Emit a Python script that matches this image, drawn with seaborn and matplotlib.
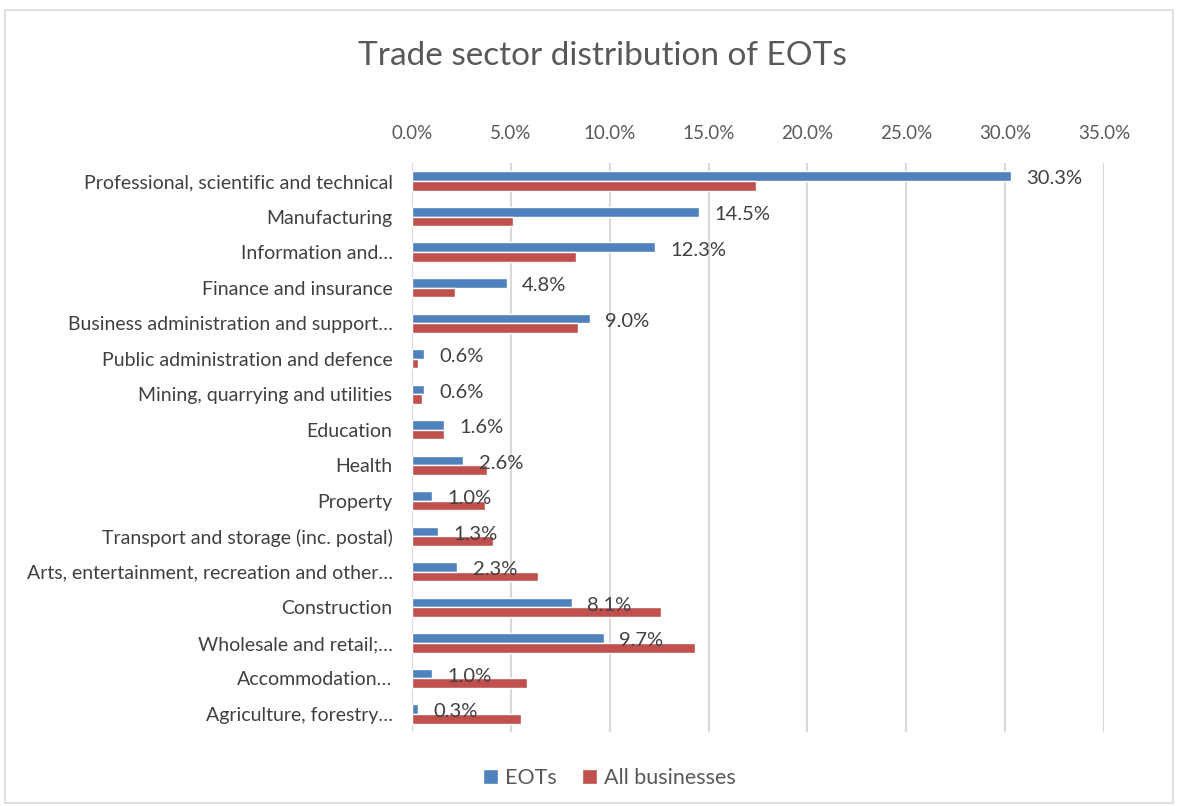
import matplotlib
matplotlib.use("Agg")
import matplotlib.pyplot as plt
from matplotlib.patches import Rectangle
from matplotlib.ticker import FuncFormatter
import seaborn as sns
import pandas as pd

sectors = [
    "Professional, scientific and technical",
    "Manufacturing",
    "Information and…",
    "Finance and insurance",
    "Business administration and support…",
    "Public administration and defence",
    "Mining, quarrying and utilities",
    "Education",
    "Health",
    "Property",
    "Transport and storage (inc. postal)",
    "Arts, entertainment, recreation and other…",
    "Construction",
    "Wholesale and retail;…",
    "Accommodation…",
    "Agriculture, forestry…",
]
eots = [30.3, 14.5, 12.3, 4.8, 9.0, 0.6, 0.6, 1.6, 2.6, 1.0, 1.3, 2.3, 8.1, 9.7, 1.0, 0.3]
all_businesses = [17.4, 5.1, 8.3, 2.2, 8.4, 0.3, 0.5, 1.6, 3.8, 3.7, 4.1, 6.4, 12.6, 14.3, 5.8, 5.5]
series = ["EOTs", "All businesses"]
colors = ["#4F81BD", "#C0504D"]
xticks = [0, 5, 10, 15, 20, 25, 30, 35]

df = pd.DataFrame({
    "sector": sectors * 2,
    "share": eots + all_businesses,
    "series": [series[0]] * len(sectors) + [series[1]] * len(sectors),
})

sns.set_style("white")
plt.rcParams["font.family"] = ["Lato", "DejaVu Sans"]
text_col = "#595959"

fig = plt.figure(figsize=(11.78, 8.06), dpi=100)
ax = fig.add_axes([0.3497, 0.0921, 0.5875, 0.7054])

sns.barplot(data=df, y="sector", x="share", hue="series", palette=colors,
            orient="h", width=0.54, ax=ax, saturation=1)

# labels only on the EOT series, nudged a touch towards the group centre
labels = ax.bar_label(ax.containers[0], labels=[f"{v:.1f}%" for v in eots],
                      padding=11, fontsize=14.5, color="#404040")
for t in labels:
    x, y = t.xyann
    t.xyann = (x, y - 2)

ax.set_xlim(0, 35)
ax.set_xticks(xticks)
ax.xaxis.set_major_formatter(FuncFormatter(lambda v, p: f"{v:.1f}%"))
ax.xaxis.tick_top()
ax.tick_params(axis="x", length=0, labelsize=13.5, labelcolor=text_col, pad=15)
ax.tick_params(axis="y", length=0, labelsize=14, labelcolor="#404040", pad=14)
ax.set_xlabel("")
ax.set_ylabel("")
ax.grid(axis="x", color="#D9D9D9", linewidth=1.5)
ax.set_axisbelow(True)
for s in ax.spines.values():
    s.set_visible(False)
ax.axvline(0, color="#D9D9D9", linewidth=1.5, zorder=0)

leg = ax.legend(loc="upper center", bbox_to_anchor=(0.285, -0.03), ncol=2,
                frameon=False, fontsize=15.5, handlelength=0.7, handleheight=0.7,
                columnspacing=1.2, handletextpad=0.3)
for t in leg.get_texts():
    t.set_color(text_col)

fig.text(0.511, 0.93, "Trade sector distribution of EOTs", ha="center",
         va="center", fontsize=24, color=text_col)

fig.patches.append(Rectangle((0.004, 0.004), 0.992, 0.984, transform=fig.transFigure,
                             fill=False, edgecolor="#D9D9D9", linewidth=1.2))

fig.savefig("out.png", dpi=100)
